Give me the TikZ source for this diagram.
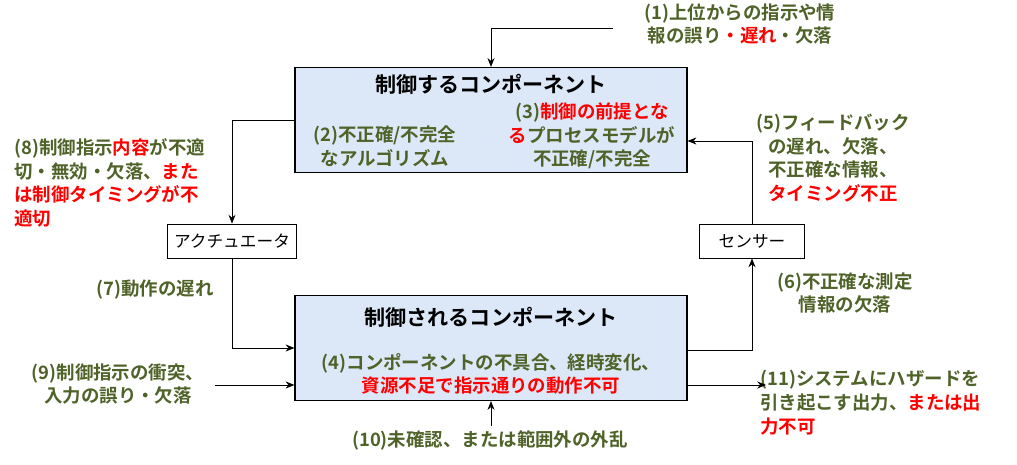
\documentclass[tikz,border=0pt]{standalone}
\usepackage{fontspec}
\newfontfamily\cjk{Noto Sans CJK JP}[BoldFont={Noto Sans CJK JP Bold}]
\usetikzlibrary{arrows.meta}
\definecolor{gr}{RGB}{79,98,40}
\definecolor{rd}{RGB}{255,0,0}
\definecolor{bx}{RGB}{220,232,248}
\newcommand{\R}[1]{\textcolor{rd}{#1}}
\begin{document}
\begin{tikzpicture}[x=0.02cm,y=-0.02cm,
  big/.style={draw=black,fill=bx,line width=0.7pt,minimum width=7.84cm,minimum height=2.1cm,inner sep=0pt},
  small/.style={draw=black,fill=white,line width=0.5pt,minimum height=0.68cm,inner sep=2pt,font=\cjk\fontsize{9.5}{11}\selectfont},
  ttl/.style={font=\cjk\bfseries\fontsize{12}{14}\selectfont},
  lab/.style={text=gr,font=\cjk\bfseries\fontsize{10.5}{13.5}\selectfont,align=center,inner sep=0pt},
  con/.style={line width=0.5pt,-{Stealth[length=5pt,width=4pt]}}]
\useasboundingbox (0,0) rectangle (1017,465);
\node[big] (top) at (491,120) {};
\node[big] (bot) at (491,348) {};
\node[ttl] (tt) at (491,84) {制御するコンポーネント};
\node[ttl] (bt) at (491,317) {制御されるコンポーネント};
\node[lab] (l2) at (385,146) {(2)不正確/不完全\\なアルゴリズム};
\node[lab] (l3) at (592,136) {(3)\R{制御の前提とな}\\\R{る}プロセスモデルが\\不正確/不完全};
\node[lab] (l4) at (491,374) {(4)コンポーネントの不具合、経時変化、\\\R{資源不足で指示通りの動作不可}};
\node[small,minimum width=2.58cm] (act) at (232,241) {アクチュエータ};
\node[small,minimum width=2.1cm] (sen) at (752,241) {センサー};
\node[lab] (l1) at (740,24) {(1)上位からの指示や情\\報の誤り\R{・遅れ}・欠落};
\node[lab,align=left,anchor=north west] (l8) at (14,138) {(8)制御指示\R{内容}が不適\\切・無効・欠落、\R{また}\\\R{は制御タイミングが不}\\\R{適切}};
\node[lab] (l7) at (155,290) {(7)動作の遅れ};
\node[lab] (l5) at (833,158) {(5)フィードバック\\の遅れ、欠落、\\不正確な情報、\\\R{タイミング不正}};
\node[lab] (l6) at (845,293) {(6)不正確な測定\\情報の欠落};
\node[lab] (l9) at (118,384) {(9)制御指示の衝突、\\入力の誤り・欠落};
\node[lab] (l10) at (490,440) {(10)未確認、または範囲外の外乱};
\node[lab,align=left,anchor=north west] (l11) at (760,370) {(11)システムにハザードを\\引き起こす出力、\R{または出}\\\R{力不可}};
\coordinate (c1) at (613,28);
\draw[con] (c1) -- (491,28) -- (top.north);
\draw[con] (top.west |- 0,120) -- (232,120) -- (act.north);
\draw[con] (act.south) -- (232,348) -- (bot.west);
\draw[con] (bot.east |- 0,350) -- (752,350) -- (sen.south);
\draw[con] (sen.north) -- (752,141) -- (top.east |- 0,141);
\coordinate (c9) at (215,385);
\draw[con] (c9) -- (bot.west |- c9);
\coordinate (c10) at (491,426);
\draw[con] (c10) -- (bot.south);
\coordinate (c11) at (766,385);
\draw[con] (bot.east |- c11) -- (c11);
\end{tikzpicture}
\end{document}
